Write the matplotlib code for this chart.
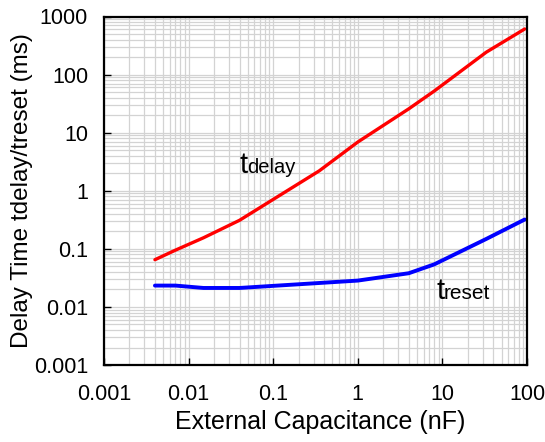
import numpy as np
import matplotlib.pyplot as plt
from matplotlib.ticker import FixedLocator, FixedFormatter, LogLocator, NullFormatter

plt.rcParams['font.family'] = ['Liberation Sans', 'DejaVu Sans']

# capacitance (nF) and delay times (ms)
cap_delay = [0.004, 0.007, 0.015, 0.04, 0.35, 1, 4, 8, 33, 94]
t_delay = [0.065, 0.095, 0.155, 0.31, 2.2, 6.9, 25.7, 52, 243, 610]

cap_reset = [0.004, 0.007, 0.015, 0.04, 1, 4, 8, 33, 94]
t_reset = [0.0233, 0.0233, 0.0212, 0.0212, 0.0284, 0.038, 0.054, 0.148, 0.32]

x_ticks = [0.001, 0.01, 0.1, 1, 10, 100]
x_labels = ['0.001', '0.01', '0.1', '1', '10', '100']
y_ticks = [0.001, 0.01, 0.1, 1, 10, 100, 1000]
y_labels = ['0.001', '0.01', '0.1', '1', '10', '100', '1000']

fig = plt.figure(figsize=(5.45, 4.42), dpi=100)
ax = fig.add_axes([104 / 545, 1 - 365 / 442, 423 / 545, 348.5 / 442])

ax.set_xscale('log')
ax.set_yscale('log')
ax.set_xlim(0.001, 100)
ax.set_ylim(0.001, 1000)

ax.grid(True, which='both', color='#d3d3d3', lw=0.9)
ax.set_axisbelow(True)

ax.plot(cap_delay, t_delay, color='#ff0000', lw=2.4, solid_capstyle='round')
ax.plot(cap_reset, t_reset, color='#0000ff', lw=2.8, solid_capstyle='round')

ax.xaxis.set_major_locator(FixedLocator(x_ticks))
ax.xaxis.set_major_formatter(FixedFormatter(x_labels))
ax.yaxis.set_major_locator(FixedLocator(y_ticks))
ax.yaxis.set_major_formatter(FixedFormatter(y_labels))
ax.xaxis.set_minor_locator(LogLocator(base=10, subs=np.arange(2, 10)))
ax.yaxis.set_minor_locator(LogLocator(base=10, subs=np.arange(2, 10)))
ax.xaxis.set_minor_formatter(NullFormatter())
ax.yaxis.set_minor_formatter(NullFormatter())

ax.tick_params(which='major', direction='in', length=5, width=1, labelsize=15.5)
ax.tick_params(axis='x', which='major', pad=13.5)
ax.tick_params(axis='y', which='major', pad=11.5)
ax.tick_params(which='minor', length=0)
for s in ax.spines.values():
    s.set_linewidth(1.6)

ax.set_xlabel('External Capacitance (nF)', fontsize=18)
ax.xaxis.set_label_coords(0.51, -0.128)
ax.set_ylabel('Delay Time tdelay/treset (ms)', fontsize=17.5)
ax.yaxis.set_label_coords(-0.168, 0.5)

ax.text(0.0395, 2.0, 't', fontsize=21, ha='left', va='baseline')
ax.text(0.049, 2.0, 'delay', fontsize=14.5, ha='left', va='baseline')
ax.text(8.5, 0.0138, 't', fontsize=21, ha='left', va='baseline')
ax.text(10.4, 0.0138, 'reset', fontsize=15, ha='left', va='baseline')

fig.savefig('out.png', dpi=100)
